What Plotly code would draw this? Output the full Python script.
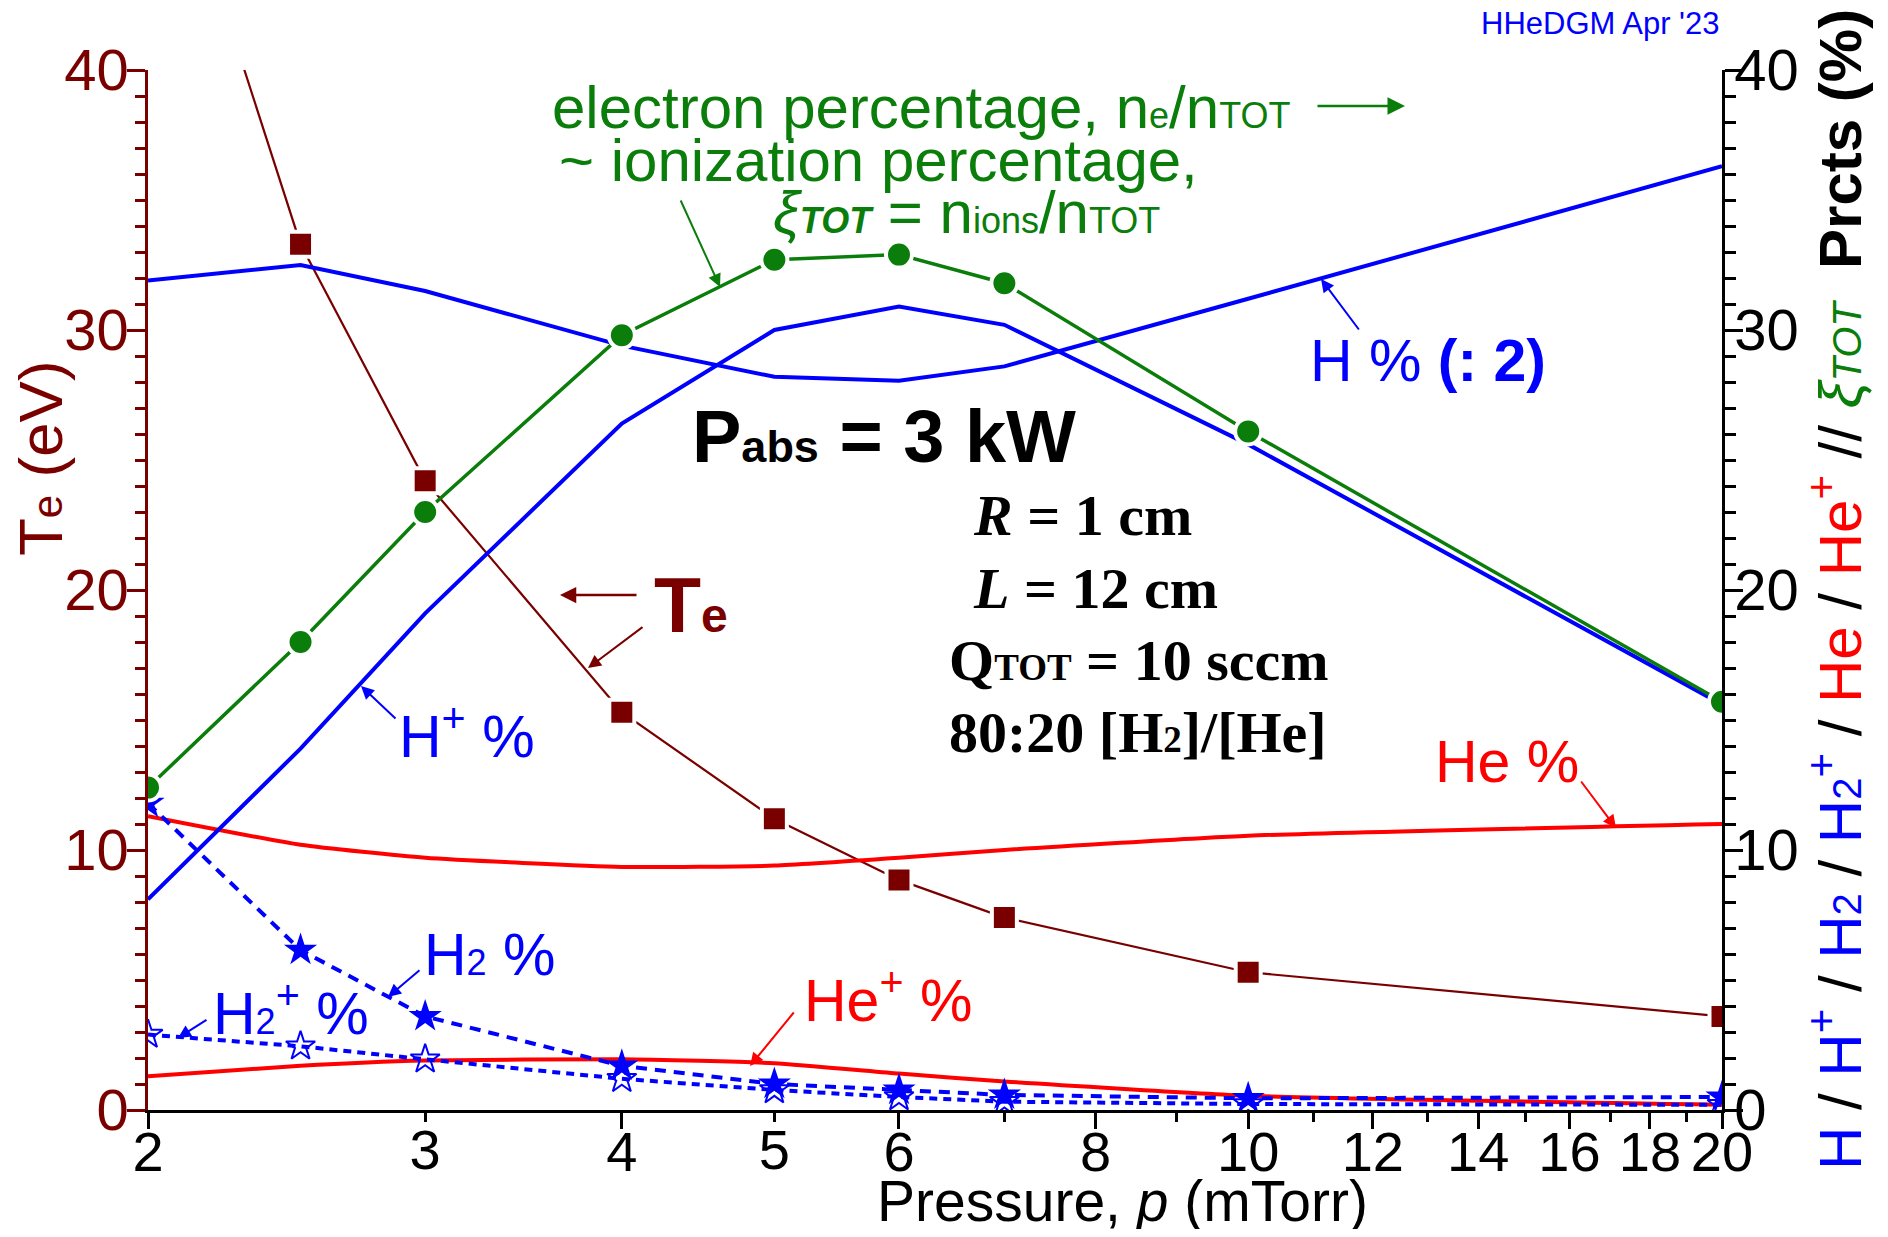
import math
import plotly.graph_objects as go

# ---------------- data ----------------
pressure_mTorr = [2, 2.5, 3, 4, 5, 6, 7, 10, 20]
te_eV          = [51.5, 33.3, 24.2, 15.3, 11.2, 8.85, 7.4, 5.3, 3.6]
electron_pct   = [12.4, 18.0, 23.0, 29.8, 32.7, 32.9, 31.8, 26.1, 15.7]
h_pct_half     = [31.9, 32.5, 31.5, 29.4, 28.2, 28.05, 28.6, 31.2, 36.3]
hplus_pct      = [8.1, 13.9, 19.1, 26.4, 30.0, 30.9, 30.2, 25.6, 15.6]
he_pct         = [11.3, 10.2, 9.7, 9.35, 9.4, 9.7, 10.0, 10.55, 11.0]
heplus_pct     = [1.3, 1.7, 1.9, 1.95, 1.8, 1.4, 1.1, 0.55, 0.2]
h2_pct         = [11.8, 6.15, 3.6, 1.7, 1.0, 0.77, 0.58, 0.45, 0.5]
h2plus_pct     = [2.9, 2.45, 1.95, 1.2, 0.77, 0.5, 0.32, 0.23, 0.2]

x_major_ticks = [2, 4, 6, 8, 10, 12, 14, 16, 18, 20]
x_minor_ticks = [3, 5, 7, 9, 11, 13, 15, 17, 19]
x_extra_labels = [3, 5]
y_major_ticks = [0, 10, 20, 30, 40]

# ---------------- style ----------------
OFF = 8                      # default body margin of the html page
PAGE_W, PAGE_H = 1888, 1237
W, H = PAGE_W - 2 * OFF, PAGE_H - 2 * OFF
L, R, T, B = 148, 1722, 70, 1110   # plot area in page pixels
MAROON = '#7A0000'
BLUE = '#0000FF'
RED = '#FF0000'
GREEN = '#0A7D0A'
SANS = 'Liberation Sans, Arial, sans-serif'
SERIF = 'Liberation Serif, Times New Roman, serif'
XTICK_FS = 56
YTICK_FS = 58
ANN_FS = 59


def px(x):
    return (x - L) / (R - L)


def py(y):
    return (B - y) / (B - T)


def small(t, fs):
    return "<span style='font-size:%dpx'>%s</span>" % (fs, t)


fig = go.Figure()

# percentages on the right axis
fig.add_trace(go.Scatter(x=pressure_mTorr, y=heplus_pct, yaxis='y2', mode='lines',
                         line=dict(color=RED, width=4, shape='spline', smoothing=0.5)))
fig.add_trace(go.Scatter(x=pressure_mTorr, y=he_pct, yaxis='y2', mode='lines',
                         line=dict(color=RED, width=4, shape='spline', smoothing=0.5)))
fig.add_trace(go.Scatter(x=pressure_mTorr, y=h2plus_pct, yaxis='y2', mode='lines+markers',
                         line=dict(color=BLUE, width=4, dash='8px,6px'),
                         marker=dict(symbol='star-open', size=22, color=BLUE, line=dict(color=BLUE, width=2))))
fig.add_trace(go.Scatter(x=pressure_mTorr, y=h2_pct, yaxis='y2', mode='lines+markers',
                         line=dict(color=BLUE, width=4, dash='11px,8px'),
                         marker=dict(symbol='star', size=25, color=BLUE)))
fig.add_trace(go.Scatter(x=pressure_mTorr, y=hplus_pct, yaxis='y2', mode='lines',
                         line=dict(color=BLUE, width=4)))
fig.add_trace(go.Scatter(x=pressure_mTorr, y=h_pct_half, yaxis='y2', mode='lines',
                         line=dict(color=BLUE, width=4)))
fig.add_trace(go.Scatter(x=pressure_mTorr, y=electron_pct, yaxis='y2', mode='lines+markers',
                         line=dict(color=GREEN, width=3.5),
                         marker=dict(symbol='circle', size=26, color=GREEN, line=dict(color='white', width=4))))
# electron temperature on the left axis
fig.add_trace(go.Scatter(x=pressure_mTorr, y=te_eV, yaxis='y', mode='lines+markers',
                         line=dict(color=MAROON, width=2.2),
                         marker=dict(symbol='square', size=25, color=MAROON, line=dict(color='white', width=4))))
# invisible carrier trace so the extra label axis (3, 5) is drawn
fig.add_trace(go.Scatter(x=pressure_mTorr, y=te_eV, xaxis='x3', yaxis='y', mode='lines',
                         opacity=0, hoverinfo='skip'))

xrange_log = [math.log10(2), math.log10(20)]
common_x = dict(type='log', range=xrange_log, showgrid=False, zeroline=False)

fig.update_layout(
    width=W, height=H,
    margin=dict(l=L - OFF, r=W - (R - OFF), t=T - OFF, b=H - (B - OFF), autoexpand=False),
    paper_bgcolor='white', plot_bgcolor='white', showlegend=False,
    font=dict(family=SANS, size=XTICK_FS, color='black'),
    xaxis=dict(**common_x, anchor='y', side='bottom',
               tickmode='array', tickvals=x_major_ticks, ticktext=[str(v) for v in x_major_ticks],
               ticks='outside', ticklen=16, tickwidth=2.5, tickcolor='black',
               showline=True, linecolor='black', linewidth=2.5,
               tickfont=dict(size=XTICK_FS, color='black'), ticklabelstandoff=-25,
               minor=dict(tickmode='array', tickvals=x_minor_ticks, ticks='outside',
                          ticklen=9, tickwidth=2.5, tickcolor='black', showgrid=False)),
    xaxis2=dict(**common_x, anchor='y', side='top', overlaying='x',
                tickmode='array', tickvals=x_major_ticks,
                ticks='outside', ticklen=16, tickwidth=2.5, tickcolor='black',
                showline=True, linecolor='black', linewidth=2.5, showticklabels=False,
                minor=dict(tickmode='array', tickvals=x_minor_ticks, ticks='outside',
                           ticklen=9, tickwidth=2.5, tickcolor='black', showgrid=False)),
    xaxis3=dict(**common_x, anchor='y', side='bottom', overlaying='x',
                tickmode='array', tickvals=x_extra_labels, ticktext=[str(v) for v in x_extra_labels],
                ticks='outside', ticklen=16, tickwidth=2.5, tickcolor='rgba(0,0,0,0)',
                showline=False, tickfont=dict(size=XTICK_FS, color='black'), ticklabelstandoff=-25),
    yaxis=dict(range=[0, 40], anchor='x', side='left', showgrid=False, zeroline=False,
               tickmode='array', tickvals=y_major_ticks,
               ticks='outside', ticklen=18, tickwidth=2.5, tickcolor=MAROON,
               showline=True, linecolor=MAROON, linewidth=2.5,
               tickfont=dict(size=YTICK_FS, color=MAROON), ticklabelstandoff=-13,
               minor=dict(dtick=1, tick0=0, ticks='outside', ticklen=10, tickwidth=2.5,
                          tickcolor=MAROON, showgrid=False)),
    yaxis2=dict(range=[0, 40], anchor='x', side='right', overlaying='y', showgrid=False, zeroline=False,
                tickmode='array', tickvals=y_major_ticks,
                ticks='outside', ticklen=18, tickwidth=2.5, tickcolor='black',
                showline=True, linecolor='black', linewidth=2.5,
                tickfont=dict(size=YTICK_FS, color='black'), ticklabelstandoff=-20,
                minor=dict(dtick=1, tick0=0, ticks='outside', ticklen=11, tickwidth=2.5,
                           tickcolor='black', showgrid=False)),
)


def label(x, y, text, size, color, family=SANS, xanchor='center', angle=0):
    fig.add_annotation(xref='paper', yref='paper', x=px(x), y=py(y), text=text,
                       showarrow=False, font=dict(family=family, size=size, color=color),
                       xanchor=xanchor, yanchor='middle', textangle=angle)


def arrow(tail, head, color, width=2, size=1.3):
    fig.add_annotation(xref='paper', yref='paper', x=px(head[0]), y=py(head[1]),
                       ax=tail[0] - head[0], ay=tail[1] - head[1],
                       text='', showarrow=True, arrowhead=2, arrowsize=size,
                       arrowwidth=width, arrowcolor=color)


S = int(ANN_FS * 0.62)

# axis titles
label(1122, 1201, "Pressure, <i>p</i> (mTorr)", 57, 'black')
label(40, 458, "T" + small('e', 42) + " (eV)", 62, MAROON, angle=-90)
right_title = (
    "<span style='color:%s'>H</span> / <span style='color:%s'>H<sup>+</sup></span> / "
    "<span style='color:%s'>H%s</span> / <span style='color:%s'>H%s<sup>+</sup></span> / "
    "<span style='color:%s'>He</span> / <span style='color:%s'>He<sup>+</sup></span> // "
    "<span style='color:%s'><i>ξ%s</i></span>  <b>Prcts (%%)</b>"
) % (BLUE, BLUE, BLUE, small('2', 40), BLUE, small('2', 40), RED, RED, GREEN, small('TOT', 40))
label(1836, 590, right_title, 60, 'black', angle=-90)

# header
label(1722, 24, "HHeDGM Apr '23", 31, BLUE, xanchor='right')

# green annotations
label(921, 108, "electron percentage, n" + small('e', S) + "/n" + small('TOT', S), ANN_FS + 1, GREEN)
arrow((1316, 106), (1405, 106), GREEN, width=2.5, size=1.4)
label(878, 160, "~ ionization percentage,", ANN_FS + 1, GREEN)
label(966, 213, "<i>ξ<b>" + small('TOT', S) + "</b></i> = n" + small('ions', S) + "/n" + small('TOT', S), ANN_FS + 1, GREEN)
arrow((680, 199), (720, 287), GREEN)

# blue annotations
label(1428, 361, "H % <b>(: 2)</b>", ANN_FS, BLUE)
arrow((1360, 331), (1321, 279), BLUE)
label(467, 732, "H<sup>+</sup> %", ANN_FS, BLUE)
arrow((397, 720), (361, 686), BLUE)
label(490, 955, "H" + small('2', S) + " %", ANN_FS, BLUE)
arrow((421, 969), (388, 997), BLUE)
label(291, 1009, "H" + small('2', S) + "<sup>+</sup> %", ANN_FS, BLUE)
arrow((208, 1019), (178, 1038), BLUE)

# red annotations
label(1507, 762, "He %", ANN_FS, RED)
arrow((1580, 780), (1616, 828), RED)
label(888, 997, "He<sup>+</sup> %", ANN_FS, RED)
arrow((795, 1011), (750, 1066), RED)

# Te
label(652, 605, "<b>T" + small('e', 48) + "</b>", 77, MAROON, xanchor='left')
arrow((638, 595), (560, 595), MAROON, width=2.5)
arrow((644, 626), (588, 668), MAROON)

# conditions
label(884, 437, "<b>P" + small('abs', 45) + " = 3 kW</b>", 74, 'black')
label(971, 515, "<b><i>R</i> = 1 cm</b>", 58, 'black', family=SERIF, xanchor='left')
label(971, 588, "<b><i>L</i> = 12 cm</b>", 58, 'black', family=SERIF, xanchor='left')
label(947, 660, "<b>Q" + small('TOT', 37) + " = 10 sccm</b>", 58, 'black', family=SERIF, xanchor='left')
label(947, 732, "<b>80:20 [H" + small('2', 37) + "]/[He]</b>", 58, 'black', family=SERIF, xanchor='left')

fig.write_html("out.html")
